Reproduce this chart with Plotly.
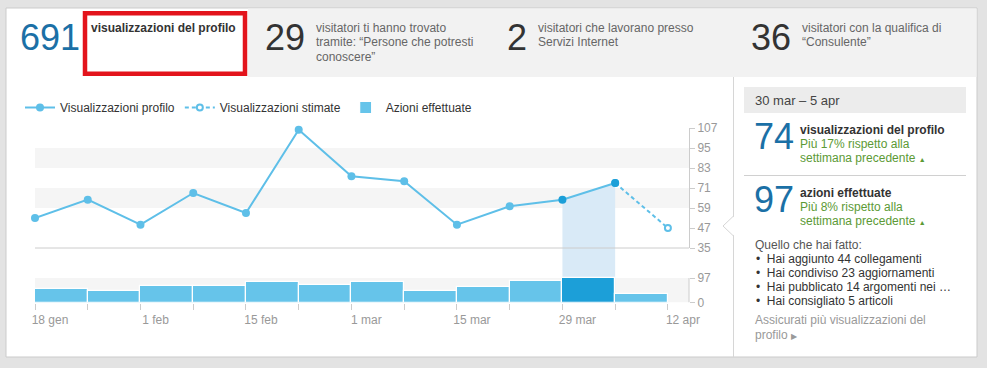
import plotly.graph_objects as go

W, H = 987, 368

# ---------------- data ----------------
weeks = ["18 gen", "25 gen", "1 feb", "8 feb", "15 feb", "22 feb", "1 mar",
         "8 mar", "15 mar", "22 mar", "29 mar", "5 apr", "12 apr"]
tick_labels = ["18 gen", "", "1 feb", "", "15 feb", "", "1 mar",
               "", "15 mar", "", "29 mar", "", "12 apr"]
views = [53, 64, 49, 68, 56, 106, 78, 75, 49, 60, 64, 74]          # 18 gen .. 5 apr
views_estimate = 47                                                 # 12 apr
actions = [55, 44, 67, 67, 82, 71, 82, 45, 63, 86, 97, 33]          # weekly bars
view_ticks = [35, 47, 59, 71, 83, 95, 107]
action_ticks = [0, 97]
view_bands = [(59, 71), (83, 95)]
selected_week = 10  # 29 mar - 5 apr

kpi_numbers = ["691", "29", "2", "36"]
kpi_texts = [
    ["<b>visualizzazioni del profilo</b>"],
    ["visitatori ti hanno trovato", "tramite: “Persone che potresti", "conoscere”"],
    ["visitatori che lavorano presso", "Servizi Internet"],
    ["visitatori con la qualifica di", "“Consulente”"],
]
period_label = "30 mar – 5 apr"
week_views = "74"
week_views_label = "visualizzazioni del profilo"
week_views_delta = ["Più 17% rispetto alla", "settimana precedente"]
week_actions = "97"
week_actions_label = "azioni effettuate"
week_actions_delta = ["Più 8% rispetto alla", "settimana precedente"]
activities_title = "Quello che hai fatto:"
activities = ["Hai aggiunto 44 collegamenti", "Hai condiviso 23 aggiornamenti",
              "Hai pubblicato 14 argomenti nei …", "Hai consigliato 5 articoli"]
tip_lines = ["Assicurati più visualizzazioni del", "profilo"]

# ---------------- styling ----------------
FONT = "Liberation Sans, Arial, Helvetica, sans-serif"
BLUE_NUM = "#1b70a6"
DARK = "#333333"
GREY_TXT = "#666666"
LIGHT_TXT = "#999999"
GREEN = "#5c9a35"
LINE_BLUE = "#5ebfe8"
BAR_BLUE = "#66c4ea"
SEL_BLUE = "#1c9fd8"
HILITE = "#d9eaf7"
BAND = "#f5f5f5"
AX = "#cccccc"


def fx(p):
    return p / W


def fy(p):
    return 1 - p / H


X_DOMAIN = [fx(35), fx(689)]
VIEW_DOMAIN = [fy(248), fy(128)]
BAR_DOMAIN = [fy(302.5), fy(248)]
# bar axis: the 97 tick sits at y=278 px, domain top at 248 px
bar_range_top = action_ticks[-1] * (302.5 - 248) / (302.5 - 278)

idx = list(range(len(weeks)))
n = len(views)

fig = go.Figure()

# highlighted column under the line (selected week)
s = selected_week
fig.add_trace(go.Scatter(
    x=[idx[s], idx[s], idx[s + 1], idx[s + 1]],
    y=[view_ticks[0], views[s], views[s + 1], view_ticks[0]],
    fill="toself", fillcolor=HILITE, mode="none",
    showlegend=False, hoverinfo="skip", xaxis="x", yaxis="y"))

# bars
bar_colors = [SEL_BLUE if i == s else BAR_BLUE for i in range(len(actions))]
fig.add_trace(go.Bar(
    x=[i + 0.5 for i in range(len(actions))], y=actions, width=1,
    marker=dict(color=bar_colors, line=dict(color="white", width=1.2)),
    name="Azioni effettuate", legendrank=3, xaxis="x", yaxis="y2"))

# estimated (dashed)
fig.add_trace(go.Scatter(
    x=[idx[n - 1], idx[n]], y=[views[-1], views_estimate],
    mode="lines+markers", name="Visualizzazioni stimate", legendrank=2,
    line=dict(color=LINE_BLUE, width=2, dash="4px,3px"),
    marker=dict(symbol="circle", size=6, color="white",
                line=dict(color=LINE_BLUE, width=2)),
    cliponaxis=False, xaxis="x", yaxis="y"))

# actual views
mk_colors = [SEL_BLUE if i in (s, s + 1) else LINE_BLUE for i in range(n)]
fig.add_trace(go.Scatter(
    x=idx[:n], y=views, mode="lines+markers", name="Visualizzazioni profilo",
    legendrank=1,
    line=dict(color=LINE_BLUE, width=2),
    marker=dict(symbol="circle", size=8, color=mk_colors),
    cliponaxis=False, xaxis="x", yaxis="y"))

shapes = []
# panel
shapes.append(dict(type="rect", xref="paper", yref="paper", x0=fx(6), x1=fx(977),
                   y0=fy(357), y1=fy(8), fillcolor="white",
                   line=dict(color="#cbcbcb", width=1), layer="below"))
# top grey strip
shapes.append(dict(type="rect", xref="paper", yref="paper", x0=fx(248), x1=fx(976.5),
                   y0=fy(77), y1=fy(8.5), fillcolor="#f2f2f2", line=dict(width=0),
                   layer="below"))
# vertical separator
shapes.append(dict(type="line", xref="paper", yref="paper", x0=fx(733.5), x1=fx(733.5),
                   y0=fy(357), y1=fy(77), line=dict(color="#d6d6d6", width=1),
                   layer="below"))
# notch
shapes.append(dict(type="path", xref="paper", yref="paper",
                   path=f"M {fx(734.5)},{fy(216)} L {fx(723)},{fy(226)} L {fx(734.5)},{fy(236)} Z",
                   fillcolor="white", line=dict(width=0), layer="below"))
shapes.append(dict(type="path", xref="paper", yref="paper",
                   path=f"M {fx(733.5)},{fy(216)} L {fx(723)},{fy(226)} L {fx(733.5)},{fy(236)}",
                   fillcolor="rgba(0,0,0,0)", line=dict(color="#d6d6d6", width=1),
                   layer="below"))
# date header box
shapes.append(dict(type="rect", xref="paper", yref="paper", x0=fx(744), x1=fx(966),
                   y0=fy(113), y1=fy(87), fillcolor="#ececec", line=dict(width=0),
                   layer="below"))
# right separator
shapes.append(dict(type="line", xref="paper", yref="paper", x0=fx(744), x1=fx(966),
                   y0=fy(175.5), y1=fy(175.5), line=dict(color="#d0d0d0", width=1),
                   layer="below"))
# red highlight rectangle
shapes.append(dict(type="rect", xref="paper", yref="paper", x0=fx(85), x1=fx(245),
                   y0=fy(73.7), y1=fy(13.3), fillcolor="rgba(0,0,0,0)",
                   line=dict(color="#e3141c", width=4.5), layer="above"))
# view bands
for lo, hi in view_bands:
    shapes.append(dict(type="rect", xref="x domain", yref="y", x0=0, x1=1, y0=lo, y1=hi,
                       fillcolor=BAND, line=dict(width=0), layer="below"))
# action band
shapes.append(dict(type="rect", xref="x domain", yref="y2", x0=0, x1=1,
                   y0=action_ticks[0], y1=action_ticks[-1],
                   fillcolor=BAND, line=dict(width=0), layer="below"))
# highlight column through bar area
shapes.append(dict(type="rect", xref="x", yref="y2 domain", x0=idx[s], x1=idx[s + 1],
                   y0=0, y1=1, fillcolor=HILITE, line=dict(width=0), layer="below"))
# baseline of the view chart
shapes.append(dict(type="line", xref="paper", yref="paper", x0=X_DOMAIN[0], x1=X_DOMAIN[1],
                   y0=VIEW_DOMAIN[0], y1=VIEW_DOMAIN[0], line=dict(color=AX, width=1),
                   layer="above"))
# bar axis line
shapes.append(dict(type="line", xref="paper", yref="y2", x0=X_DOMAIN[1], x1=X_DOMAIN[1],
                   y0=action_ticks[0], y1=action_ticks[-1], line=dict(color=AX, width=1),
                   layer="above"))

ann = []


def text(x, y, t, size=12, color=DARK, anchor="left"):
    ann.append(dict(x=fx(x), y=fy(y), xref="paper", yref="paper", text=t,
                    showarrow=False, xanchor=anchor, yanchor="middle",
                    font=dict(family=FONT, size=size, color=color)))


num_x = [18, 263, 505, 749]
txt_x = [89, 314, 536, 800]
line_y = [28, 42.5, 57]
for i, num in enumerate(kpi_numbers):
    text(num_x[i], 37, num, size=36, color=BLUE_NUM if i == 0 else DARK)
    for j, t in enumerate(kpi_texts[i]):
        text(txt_x[i], line_y[j], t, size=12, color=DARK if i == 0 else GREY_TXT)

text(753, 100, period_label, size=13, color="#444444")
text(752, 136, week_views, size=36, color=BLUE_NUM)
text(798, 130, "<b>" + week_views_label + "</b>", size=12, color=DARK)
text(798, 143.5, week_views_delta[0], size=12, color=GREEN)
text(798, 157.5, week_views_delta[1] + " <span style='font-size:7px'>▲</span>", size=12, color=GREEN)
text(752, 199, week_actions, size=36, color=BLUE_NUM)
text(798, 193, "<b>" + week_actions_label + "</b>", size=12, color=DARK)
text(798, 207, week_actions_delta[0], size=12, color=GREEN)
text(798, 221, week_actions_delta[1] + " <span style='font-size:7px'>▲</span>", size=12, color=GREEN)
text(753, 244.5, activities_title, size=12, color="#555555")
for k, a in enumerate(activities):
    text(754, 259 + k * 13.9, "•  " + a, size=12, color=DARK)
text(753, 320, tip_lines[0], size=12, color=LIGHT_TXT)
text(753, 334.5, tip_lines[1] + " <span style='font-size:8px'>▶</span>", size=12, color=LIGHT_TXT)

fig.update_layout(
    width=W, height=H, autosize=False,
    margin=dict(l=0, r=0, t=0, b=0, pad=0, autoexpand=False),
    paper_bgcolor="#e3e3e3", plot_bgcolor="rgba(0,0,0,0)",
    font=dict(family=FONT, size=12, color=DARK),
    barmode="overlay", bargap=0,
    showlegend=True,
    legend=dict(orientation="h", x=fx(20), y=fy(107.5), xanchor="left", yanchor="middle",
                bgcolor="rgba(0,0,0,0)", font=dict(family=FONT, size=12, color=DARK),
                itemwidth=30, traceorder="normal"),
    xaxis=dict(domain=X_DOMAIN, anchor="y2", range=[0, 12.4], automargin=False,
               tickmode="array", tickvals=idx, ticktext=tick_labels,
               ticks="outside", ticklen=6, tickcolor=AX, tickwidth=1,
               showgrid=False, zeroline=False, showline=False,
               tickfont=dict(family=FONT, size=12, color=LIGHT_TXT),
               ticklabelshift=15, fixedrange=True),
    yaxis=dict(domain=VIEW_DOMAIN, anchor="x", side="right", automargin=False,
               range=[view_ticks[0], view_ticks[-1]],
               tickmode="array", tickvals=view_ticks,
               ticks="outside", ticklen=5, tickcolor=AX,
               showline=True, linecolor=AX, linewidth=1,
               showgrid=False, zeroline=False,
               tickfont=dict(family=FONT, size=12, color=LIGHT_TXT), fixedrange=True),
    yaxis2=dict(domain=BAR_DOMAIN, anchor="x", side="right", automargin=False,
                range=[0, bar_range_top],
                tickmode="array", tickvals=action_ticks,
                ticks="outside", ticklen=5, tickcolor=AX,
                showline=False, showgrid=False, zeroline=False,
                tickfont=dict(family=FONT, size=12, color=LIGHT_TXT), fixedrange=True),
    shapes=shapes,
    annotations=ann,
    hovermode=False,
)

fig.write_html(
    "out.html",
    config={"displayModeBar": False},
    post_script="document.body.style.margin='0';document.body.style.padding='0';"
                "document.body.style.background='#e3e3e3';",
)
